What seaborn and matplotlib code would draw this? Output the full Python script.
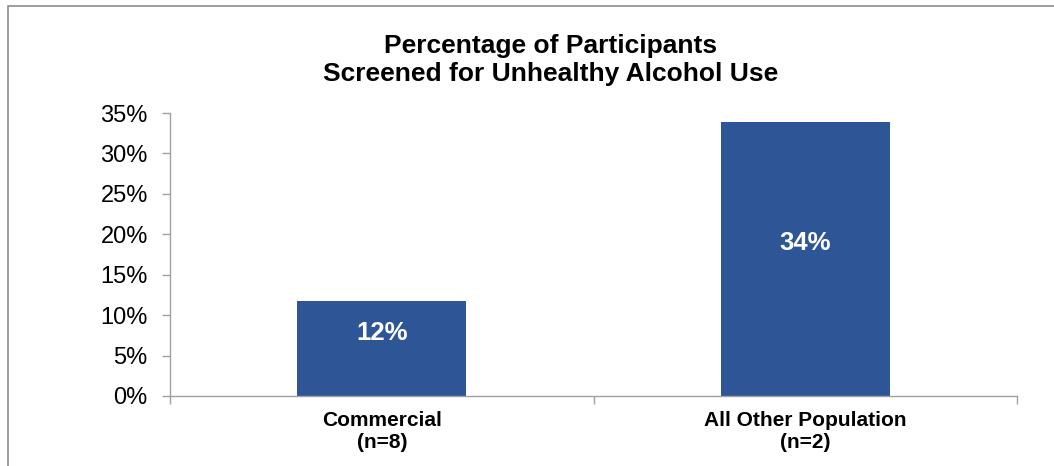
import matplotlib
matplotlib.use("Agg")
import matplotlib.pyplot as plt
import seaborn as sns
from matplotlib.patches import Rectangle

sns.set_style("white")
plt.rcParams["font.family"] = ["Liberation Sans", "DejaVu Sans"]

categories = ["Commercial\n(n=8)", "All Other Population\n(n=2)"]
values = [0.117, 0.339]
bar_labels = ["12%", "34%"]
yticks = [0, 0.05, 0.10, 0.15, 0.20, 0.25, 0.30, 0.35]
ytick_labels = ["0%", "5%", "10%", "15%", "20%", "25%", "30%", "35%"]

fig = plt.figure(figsize=(10.54, 4.66), dpi=100)
ax = fig.add_axes([170 / 1054, 1 - 396 / 466, (1017 - 170) / 1054, (396 - 113) / 466])

sns.barplot(x=categories, y=values, ax=ax, color="#2E5696", width=0.4,
            saturation=1, edgecolor="none")

# value labels, a bit above the middle of each bar
for i, (v, lab) in enumerate(zip(values, bar_labels)):
    ax.annotate(lab, xy=(i, v / 2), xytext=(0, 11.5), textcoords="offset points",
                ha="center", va="center", color="white", fontsize=18.5,
                fontweight="bold")

ax.set_ylim(0, 0.35)
ax.set_xlim(-0.5, 1.5)
ax.set_yticks(yticks)
ax.set_yticklabels(ytick_labels, fontsize=17, color="black")

# category boundary ticks, labels on minor ticks
ax.set_xticks([-0.5, 0.5, 1.5])
ax.set_xticklabels([])
ax.set_xticks([0, 1], minor=True)
ax.set_xticklabels(categories, minor=True, fontsize=15, fontweight="bold",
                   color="black", linespacing=1.15)
ax.tick_params(axis="x", which="major", direction="out", length=6, width=1,
               color="#A0A0A0", bottom=True)
ax.tick_params(axis="x", which="minor", length=0, pad=11)
ax.tick_params(axis="y", direction="out", length=6, width=1, color="#A0A0A0",
               left=True, pad=10)

for side in ["top", "right"]:
    ax.spines[side].set_visible(False)
for side in ["left", "bottom"]:
    ax.spines[side].set_color("#A0A0A0")
    ax.spines[side].set_linewidth(1)
ax.set_xlabel("")
ax.set_ylabel("")

fig.text(551 / 1054, 1 - 60 / 466,
         "Percentage of Participants\nScreened for Unhealthy Alcohol Use",
         ha="center", va="center", fontsize=19, fontweight="bold",
         color="black", linespacing=1.25)

# chart frame, open at right and bottom
fig.patches.append(Rectangle((8 / 1054, -0.1), 1.2, 1 - 6 / 466 + 0.1,
                             transform=fig.transFigure, fill=False,
                             edgecolor="#8C8C8C", linewidth=1.2))

fig.savefig("out.png", dpi=100)
